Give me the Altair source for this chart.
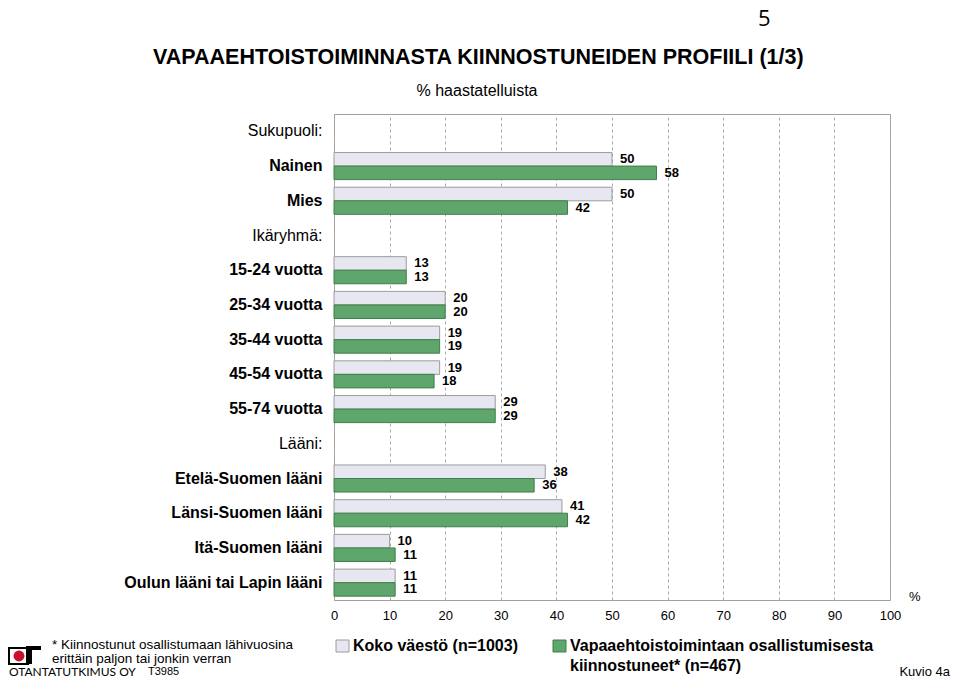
import altair as alt
import pandas as pd

categories = ["Sukupuoli:", "Nainen", "Mies", "Ikäryhmä:", "15-24 vuotta", "25-34 vuotta",
              "35-44 vuotta", "45-54 vuotta", "55-74 vuotta", "Lääni:",
              "Etelä-Suomen lääni", "Länsi-Suomen lääni", "Itä-Suomen lääni",
              "Oulun lääni tai Lapin lääni"]
headers = ["Sukupuoli:", "Ikäryhmä:", "Lääni:"]
series = ["Koko väestö (n=1003)", "Vapaaehtoistoimintaan osallistumisesta kiinnostuneet* (n=467)"]
koko = [None, 50, 50, None, 13, 20, 19, 19, 29, None, 38, 41, 10, 11]
kiinn = [None, 58, 42, None, 13, 20, 19, 18, 29, None, 36, 42, 11, 11]
x_ticks = [0, 10, 20, 30, 40, 50, 60, 70, 80, 90, 100]

FONT = "Liberation Sans"
GRAY_FILL = "#E6E7F0"
GRAY_STROKE = "#9C9C9C"
GREEN_FILL = "#5FA66C"
GREEN_STROKE = "#3F7F4B"

rows = []
for c, a, b in zip(categories, koko, kiinn):
    if a is not None:
        rows.append({"cat": c, "series": series[0], "value": a})
    if b is not None:
        rows.append({"cat": c, "series": series[1], "value": b})
df = pd.DataFrame(rows)

hdr_test = " || ".join([f"datum.value == '{h}'" for h in headers])

y_enc = alt.Y("cat:N", sort=categories,
              scale=alt.Scale(domain=categories, paddingInner=0.22, paddingOuter=0.11),
              axis=alt.Axis(title=None, ticks=False, domain=False, grid=False,
                            labelPadding=12, labelFontSize=16, labelFont=FONT,
                            labelColor="black", labelLimit=0,
                            labelFontWeight={"condition": {"test": hdr_test, "value": "normal"},
                                             "value": "bold"}))
yoff = alt.YOffset("series:N", sort=series, scale=alt.Scale(paddingInner=0, paddingOuter=0))
x_enc = alt.X("value:Q", scale=alt.Scale(domain=[0, 100], nice=False),
              axis=alt.Axis(title=None, values=x_ticks, ticks=False, domain=False,
                            grid=True, gridDash=[3, 3], gridColor="#A8A8A8",
                            labelFontSize=13, labelFont=FONT, labelColor="black",
                            labelPadding=9, labelFlush=False))

base = alt.Chart(df)
bars = base.mark_bar(strokeWidth=1).encode(
    x=x_enc, y=y_enc, yOffset=yoff,
    fill=alt.Fill("series:N", sort=series,
                  scale=alt.Scale(domain=series, range=[GRAY_FILL, GREEN_FILL]), legend=None),
    stroke=alt.Stroke("series:N", sort=series,
                      scale=alt.Scale(domain=series, range=[GRAY_STROKE, GREEN_STROKE]), legend=None),
)
labels = base.mark_text(align="left", baseline="middle", dx=8, font=FONT,
                        fontSize=13, fontWeight="bold", color="black").encode(
    x="value:Q", y=alt.Y("cat:N", sort=categories), yOffset=alt.YOffset("series:N", sort=series),
    text="value:Q",
)


def txt(s, x, y, size, weight="normal", align="left", font=FONT, color="black", baseline="middle"):
    return alt.Chart(pd.DataFrame({"t": [s]})).mark_text(
        align=align, baseline=baseline, fontSize=size, fontWeight=weight,
        font=font, color=color).encode(x=alt.value(x), y=alt.value(y), text="t:N")


def box(x1, x2, y1, y2, fill, stroke=None, sw=0):
    kw = {"fill": fill}
    if stroke:
        kw.update({"stroke": stroke, "strokeWidth": sw})
    return alt.Chart(pd.DataFrame({"a": [0]})).mark_rect(**kw).encode(
        x=alt.value(x1), x2=alt.value(x2), y=alt.value(y1), y2=alt.value(y2))


overlay = [
    txt("5", 424, -105, 22, font="Open Sans", baseline="top"),
    txt("VAPAAEHTOISTOIMINNASTA KIINNOSTUNEIDEN PROFIILI (1/3)", -181, -56, 21.5, weight="bold"),
    txt("% haastatelluista", 143, -23, 16, align="center"),
    txt("%", 575, 483, 13),
    # legend
    box(2, 15, 526, 538, GRAY_FILL, GRAY_STROKE, 1),
    txt("Koko väestö (n=1003)", 19, 532, 16, weight="bold"),
    box(219, 232, 526, 538, GREEN_FILL, GREEN_STROKE, 1),
    txt("Vapaaehtoistoimintaan osallistumisesta", 236, 532, 16, weight="bold"),
    txt("kiinnostuneet* (n=467)", 236, 552, 16, weight="bold"),
    # footnote
    txt("* Kiinnostunut osallistumaan lähivuosina", -282, 531, 13.5),
    txt("erittäin paljon tai jonkin verran", -282, 545, 13.5),
    # logo
    box(-325, -306, 534, 550, "white", "black", 2),
    box(-308, -302, 532, 550, "black"),
    box(-308, -293, 532, 536, "black"),
    alt.Chart(pd.DataFrame({"a": [0]})).mark_circle(color="#C8102E", opacity=1, size=120).encode(
        x=alt.value(-315), y=alt.value(542)),
    txt("OTANTATUTKIMUS OY", -325, 558, 12, font="Lato"),
    txt("T3985", -186, 558, 11),
    txt("Kuvio 4a", 616, 558, 13, align="right"),
]

chart = alt.layer(bars, labels, *overlay).properties(
    width=556, height=486,
    padding={"left": 326, "top": 106, "right": 62, "bottom": 80},
    autosize=alt.AutoSizeParams(type="none"),
).configure_view(stroke="#A0A0A0", strokeWidth=1)

chart.save("out.html", embed_options={"renderer": "svg", "actions": False})
